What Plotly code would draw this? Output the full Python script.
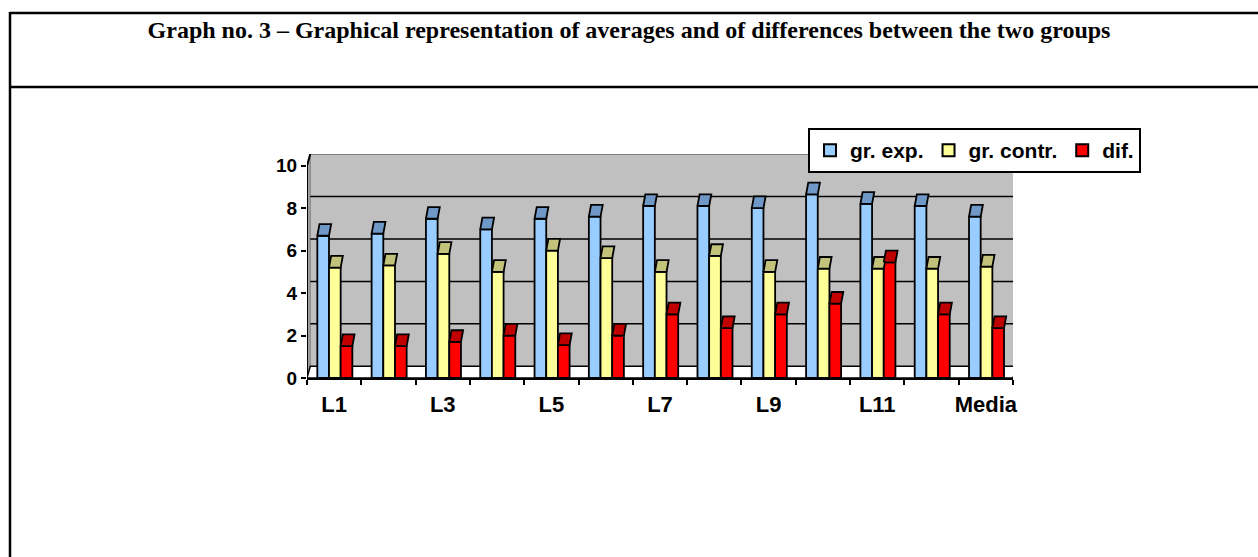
import plotly.graph_objects as go

# ---- data -------------------------------------------------------------
categories = ["L1", "L2", "L3", "L4", "L5", "L6", "L7", "L8", "L9",
              "L10", "L11", "L12", "Media"]
gr_exp = [6.7, 6.8, 7.5, 7.0, 7.5, 7.6, 8.1, 8.1, 8.0, 8.65, 8.2, 8.1, 7.6]
gr_contr = [5.2, 5.3, 5.85, 5.0, 6.0, 5.65, 5.0, 5.75, 5.0, 5.15, 5.15, 5.15, 5.25]
dif = [1.5, 1.5, 1.7, 2.0, 1.55, 2.0, 3.0, 2.35, 3.0, 3.5, 5.45, 3.0, 2.35]
y_ticks = [0, 2, 4, 6, 8, 10]
x_label_every = 2

series = [
    ("gr. exp.", gr_exp, "#99CCFF", "#7098C6"),
    ("gr. contr.", gr_contr, "#FFFF99", "#C2C27A"),
    ("dif.", dif, "#FF0000", "#C00000"),
]

# ---- geometry of the pseudo-3D box -----------------------------------
W, H = 1258, 557
L_M, R_M, T_M, B_M = 307, 245, 154, 179
DEPTH = 0.55          # vertical offset of the back wall (value units)
SHIFT = 0.06          # horizontal offset of the back wall (category units)
TOP_SKEW = 0.04       # slant of the column tops
BAR_W = 0.215
GROUP_START = -0.31
n = len(categories)
x0, x1 = -0.5, n - 0.5
y_top = max(y_ticks) + DEPTH

plot_w = W - L_M - R_M
plot_h = H - T_M - B_M


def px_x(px):
    return (px - L_M) / plot_w


def px_y(py):
    return (H - B_M - py) / plot_h


fig = go.Figure()

# front faces of the columns
for k, (name, vals, face, top) in enumerate(series):
    fig.add_trace(go.Bar(
        x=list(range(n)), y=vals, name=name,
        width=BAR_W, offset=GROUP_START + k * BAR_W,
        marker=dict(color=face, line=dict(color="black", width=1.8)),
        hoverinfo="skip",
    ))

# top faces of the columns
for k, (name, vals, face, top) in enumerate(series):
    xs, ys = [], []
    for i, v in enumerate(vals):
        a = i + GROUP_START + k * BAR_W
        b = a + BAR_W
        xs += [a, b, b + TOP_SKEW, a + TOP_SKEW, a, None]
        ys += [v, v, v + DEPTH, v + DEPTH, v, None]
    fig.add_trace(go.Scatter(
        x=xs, y=ys, mode="lines", fill="toself", fillcolor=top,
        line=dict(color="black", width=1.8), showlegend=False,
        hoverinfo="skip",
    ))

shapes = []
# back wall
shapes.append(dict(type="rect", xref="x", yref="y", layer="below",
                   x0=x0 + SHIFT, x1=x1 + SHIFT, y0=DEPTH, y1=y_top,
                   fillcolor="#C0C0C0", line=dict(width=0)))
# left side wall
shapes.append(dict(type="path", xref="x", yref="y", layer="below",
                   path=f"M{x0},0 L{x0 + SHIFT},{DEPTH} L{x0 + SHIFT},{y_top} "
                        f"L{x0},{max(y_ticks)} Z",
                   fillcolor="#A0A0A0", line=dict(color="#808080", width=1)))
# floor
shapes.append(dict(type="path", xref="x", yref="y", layer="below",
                   path=f"M{x0},0 L{x1},0 L{x1 + SHIFT},{DEPTH} "
                        f"L{x0 + SHIFT},{DEPTH} Z",
                   fillcolor="white", line=dict(color="black", width=1.5)))
# gridlines on the back wall
for t in y_ticks[1:-1]:
    shapes.append(dict(type="line", xref="x", yref="y", layer="below",
                       x0=x0 + SHIFT, x1=x1 + SHIFT, y0=t + DEPTH, y1=t + DEPTH,
                       line=dict(color="black", width=1.5)))
# wall outline (top and right edges)
shapes.append(dict(type="path", xref="x", yref="y", layer="below",
                   path=f"M{x0 + SHIFT},{y_top} L{x1 + SHIFT},{y_top} "
                        f"L{x1 + SHIFT},{DEPTH}",
                   line=dict(color="#808080", width=2)))
# front value axis
shapes.append(dict(type="path", xref="x", yref="y",
                   path=f"M{x0},0 L{x0},{max(y_ticks)} L{x0 + SHIFT},{y_top}",
                   line=dict(color="black", width=2)))

# table frame around the chart
frame = dict(color="black", width=2.5)
shapes.append(dict(type="line", xref="paper", yref="paper",
                   x0=px_x(10), x1=px_x(W + 5), y0=px_y(13), y1=px_y(13), line=frame))
shapes.append(dict(type="line", xref="paper", yref="paper",
                   x0=px_x(10), x1=px_x(W + 5), y0=px_y(87), y1=px_y(87), line=frame))
shapes.append(dict(type="line", xref="paper", yref="paper",
                   x0=px_x(10), x1=px_x(10), y0=px_y(12), y1=px_y(H + 5), line=frame))

label_idx = list(range(0, n, x_label_every))

fig.update_layout(
    width=W, height=H,
    margin=dict(l=L_M, r=R_M, t=T_M, b=B_M),
    paper_bgcolor="white", plot_bgcolor="rgba(0,0,0,0)",
    barmode="overlay",
    shapes=shapes,
    title=dict(
        text="Graph no. 3 – Graphical representation of averages and of "
             "differences between the two groups",
        x=0.5, xref="container", xanchor="center",
        y=1 - 30 / H, yref="container", yanchor="middle",
        font=dict(family="Liberation Serif, Times New Roman, serif",
                  size=24, color="black", weight="bold"),
    ),
    font=dict(family="Liberation Sans, Arial, sans-serif", color="black"),
    xaxis=dict(
        range=[x0, x1], showgrid=False, zeroline=False,
        showline=True, linecolor="black", linewidth=2,
        tickmode="array", tickvals=label_idx,
        ticktext=[categories[i] for i in label_idx],
        ticks="", ticklabelstandoff=6,
        tickfont=dict(size=22, weight="bold"),
        minor=dict(tickmode="array",
                   tickvals=[x0 + i for i in range(n + 1)],
                   ticks="outside", ticklen=5, tickwidth=1.5,
                   tickcolor="black", showgrid=False),
    ),
    yaxis=dict(
        range=[0, y_top], showgrid=False, zeroline=False, showline=False,
        tickmode="array", tickvals=y_ticks,
        ticks="outside", ticklen=5, tickwidth=1.5, tickcolor="black",
        tickfont=dict(size=19, weight="bold"),
    ),
    legend=dict(
        orientation="h", x=px_x(808), xanchor="left",
        y=px_y(128), yanchor="top",
        bgcolor="white", bordercolor="black", borderwidth=2,
        font=dict(size=21, weight="bold"),
        itemsizing="constant", itemwidth=30,
        traceorder="normal",
    ),
    showlegend=True,
)

fig.write_html("out.html")
